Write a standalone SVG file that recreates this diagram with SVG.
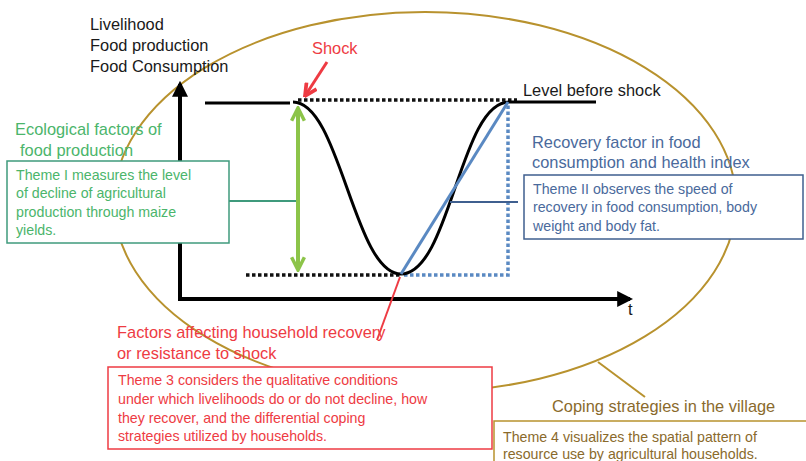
<svg xmlns="http://www.w3.org/2000/svg" width="806" height="461" viewBox="0 0 806 461">
<defs>
<style>
text{font-family:"Liberation Sans",Arial,sans-serif;}
.lbl{font-size:16.4px;}
.small{font-size:14.2px;}
.k{fill:#1a1a1a;}
.g{fill:#4bb56b;}
.b{fill:#4a6a9c;}
.r{fill:#ee3b43;}
.o{fill:#8a6a2c;}
.box{fill:#fff;stroke-width:1.5;}
.dotk{stroke:#111;stroke-width:3.5;stroke-dasharray:3.5 2.5;fill:none;}
.dotb{stroke:#5a89c2;stroke-width:3.5;stroke-dasharray:3.5 2.5;fill:none;}
</style>
<marker id="axArr" viewBox="0 0 10 10" refX="8" refY="5" markerWidth="4" markerHeight="4" orient="auto-start-reverse" markerUnits="strokeWidth"><path d="M0,0 L10,5 L0,10 z" fill="#000"/></marker>
<marker id="grArr" viewBox="0 0 10 10" refX="9" refY="5" markerWidth="4" markerHeight="4" orient="auto-start-reverse" markerUnits="strokeWidth"><path d="M1,1 L9,5 L1,9" fill="none" stroke="#8cc449" stroke-width="2.2" stroke-linejoin="miter"/></marker>
<marker id="rdArr" viewBox="0 0 10 10" refX="9" refY="5" markerWidth="5" markerHeight="5" orient="auto" markerUnits="strokeWidth"><path d="M1,1 L9,5 L1,9" fill="none" stroke="#ee3b43" stroke-width="2.5"/></marker>
</defs>
<rect width="806" height="461" fill="#fff"/>

<g id="ellipse">
<ellipse cx="425" cy="202" rx="311" ry="190" fill="none" stroke="#b8922e" stroke-width="2"/>
</g>

<g id="chart">
<line x1="180" y1="301" x2="180" y2="84" stroke="#000" stroke-width="4" marker-end="url(#axArr)"/>
<line x1="178" y1="299" x2="630" y2="299" stroke="#000" stroke-width="4" marker-end="url(#axArr)"/>
<text x="628" y="315" class="lbl k">t</text>
<line x1="205" y1="103" x2="290" y2="103" stroke="#000" stroke-width="3"/>
<line x1="298" y1="100" x2="517" y2="100" class="dotk"/>
<line x1="509" y1="102" x2="596" y2="102" stroke="#000" stroke-width="3"/>
<line x1="246" y1="275" x2="401" y2="275" class="dotk"/>
<polyline points="404,275 508,275 508,104" class="dotb"/>
<path d="M293,102 C340,102 354,274 401,274 C450,274 460,102 509,102" fill="none" stroke="#000" stroke-width="3"/>
<line x1="401" y1="274" x2="508" y2="102" stroke="#5a89c2" stroke-width="3"/>
<line x1="298" y1="108" x2="298" y2="270" stroke="#8cc449" stroke-width="4" marker-start="url(#grArr)" marker-end="url(#grArr)"/>
</g>

<g id="connectors">
<line x1="229" y1="201" x2="296" y2="201" stroke="#3f9a7c" stroke-width="2"/>
<line x1="450" y1="202" x2="518" y2="202" stroke="#3f5f8f" stroke-width="2"/>
<line x1="400" y1="277" x2="377" y2="340" stroke="#ee3b43" stroke-width="2"/>
<line x1="598" y1="362" x2="645" y2="397" stroke="#b8922e" stroke-width="2"/>
<line x1="327" y1="62" x2="305" y2="96" stroke="#ee3b43" stroke-width="3" marker-end="url(#rdArr)"/>
</g>

<g id="axis-label">
<text class="lbl k"><tspan x="90" y="30">Livelihood</tspan><tspan x="90" y="51">Food production</tspan><tspan x="90" y="72">Food Consumption</tspan></text>
</g>
<g id="shock"><text x="312" y="54" class="lbl r">Shock</text></g>
<g id="level"><text x="523" y="96" class="lbl k">Level before shock</text></g>

<g id="theme1">
<text class="lbl g"><tspan x="15" y="135">Ecological factors of</tspan><tspan x="20" y="156">food production</tspan></text>
<rect x="7" y="161" width="222" height="82" class="box" stroke="#3f9a7c"/>
<text class="small g"><tspan x="16" y="180">Theme I measures the level</tspan><tspan x="16" y="198">of decline of agricultural</tspan><tspan x="16" y="217">production through maize</tspan><tspan x="16" y="235">yields.</tspan></text>
</g>

<g id="theme2">
<text class="lbl b"><tspan x="532" y="148">Recovery factor in food</tspan><tspan x="532" y="168">consumption and health index</tspan></text>
<rect x="524" y="175" width="279" height="64" class="box" stroke="#3f5f8f"/>
<text class="small b"><tspan x="533" y="194">Theme II observes the speed of</tspan><tspan x="533" y="212">recovery in food consumption, body</tspan><tspan x="533" y="231">weight and body fat.</tspan></text>
</g>

<g id="theme3">
<text class="lbl r"><tspan x="117" y="338">Factors affecting household recovery</tspan><tspan x="117" y="359">or resistance to shock</tspan></text>
<rect x="108" y="367" width="384" height="82" class="box" stroke="#ee3b43"/>
<text class="small r"><tspan x="118" y="385">Theme 3 considers the qualitative conditions</tspan><tspan x="118" y="404">under which livelihoods do or do not decline, how</tspan><tspan x="118" y="423">they recover, and the differential coping</tspan><tspan x="118" y="441">strategies utilized by households.</tspan></text>
</g>

<g id="theme4">
<text x="552" y="412" class="lbl o">Coping strategies in the village</text>
<rect x="494" y="421" width="320" height="50" class="box" stroke="#b8922e"/>
<text class="small o"><tspan x="503" y="442">Theme 4 visualizes the spatial pattern of</tspan><tspan x="503" y="459">resource use by agricultural households.</tspan></text>
</g>
</svg>
